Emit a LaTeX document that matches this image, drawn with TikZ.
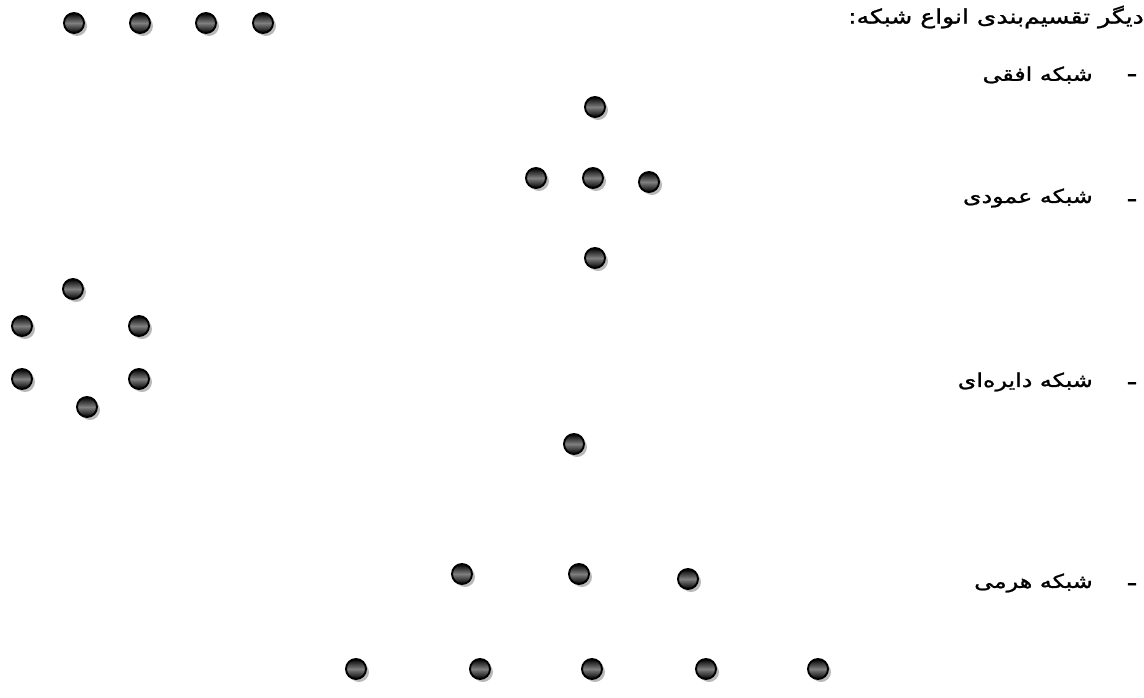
\documentclass[tikz,border=0pt]{standalone}
\usepackage{fontspec}
\usepackage{tikz}
\usetikzlibrary{shadows}
\newfontfamily\arabicfont[Script=Arabic,FakeStretch=1.25,FakeBold=1.2]{DejaVu Sans}
\TeXXeTstate=1

\begin{document}
\begin{tikzpicture}[
x=1pt,y=-1pt,
station/.style={circle, draw=black, line width=1.9pt, minimum size=20pt, inner sep=0pt,
  top color=black, bottom color=black, middle color=black!50,
  drop shadow={shadow xshift=3pt, shadow yshift=-3pt, fill=gray!55, opacity=1}},
txt/.style={font=\arabicfont\fontsize{19}{22}\selectfont, inner sep=0pt},
bullet/.style={font=\arabicfont\fontsize{24}{26}\selectfont, inner sep=0pt}
]
\useasboundingbox (0,0) rectangle (1144,697);

% title and list
\node[txt, anchor=east, font=\arabicfont\fontsize{20}{24}\selectfont] (title) at (1144,17) {\beginR دیگر تقسیم‌بندی انواع شبکه:\endR};
\node[bullet] (d1) at (1132,78) {-};
\node[txt, anchor=east] (t1) at (1093,75) {\beginR شبکه افقی\endR};
\node[bullet] (d2) at (1132,203) {-};
\node[txt, anchor=east] (t2) at (1093,198) {\beginR شبکه عمودی\endR};
\node[bullet] (d3) at (1132,386) {-};
\node[txt, anchor=east] (t3) at (1093,382) {\beginR شبکه دایره‌ای\endR};
\node[bullet] (d4) at (1132,587) {-};
\node[txt, anchor=east] (t4) at (1093,583) {\beginR شبکه هرمی\endR};

% horizontal
\node[station] (h1) at (74,23) {};
\node[station] (h2) at (140,23) {};
\node[station] (h3) at (206,23) {};
\node[station] (h4) at (263,23) {};

% vertical
\node[station] (v1) at (595,107) {};
\node[station] (v2) at (536,178) {};
\node[station] (v3) at (593,178) {};
\node[station] (v4) at (649,182) {};
\node[station] (v5) at (595,258) {};

% ring
\node[station] (r1) at (73,289) {};
\node[station] (r2) at (22,326) {};
\node[station] (r3) at (139,326) {};
\node[station] (r4) at (22,379) {};
\node[station] (r5) at (139,379) {};
\node[station] (r6) at (87,407) {};

% pyramid
\node[station] (p1) at (574,444) {};
\node[station] (p2) at (462,574) {};
\node[station] (p3) at (579,574) {};
\node[station] (p4) at (688,579) {};
\node[station] (p5) at (356,669) {};
\node[station] (p6) at (480,669) {};
\node[station] (p7) at (592,669) {};
\node[station] (p8) at (706,669) {};
\node[station] (p9) at (818,669) {};
\end{tikzpicture}
\end{document}
